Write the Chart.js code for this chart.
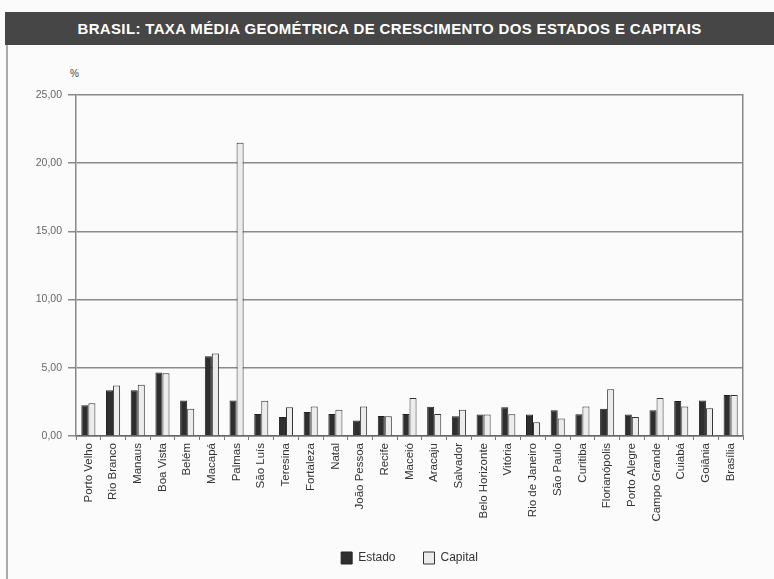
<!DOCTYPE html>
<html>
<head>
<meta charset="utf-8">
<script src="https://cdn.jsdelivr.net/npm/chart.js@4/dist/chart.umd.min.js"></script>
<style>
  html, body { margin: 0; padding: 0; width: 774px; height: 579px; overflow: hidden; background: #fbfbfb; }
  #titulo {
    position: absolute; left: 5px; top: 12px; width: 769px; height: 33px;
    background: #464646; color: #fff; font: bold 15px "Liberation Sans", Arial, sans-serif;
    line-height: 33px; text-align: center; letter-spacing: 0.35px;
  }
  #moldura { position: absolute; left: 6px; top: 45px; width: 2px; height: 534px; background: #aaa; }
  #pct { position: absolute; left: 70px; top: 68px; font: 10px "Liberation Sans", Arial, sans-serif; color: #444; }
  #box { position: absolute; left: 0; top: 50px; width: 774px; height: 524px; }
</style>
</head>
<body>
<div id="titulo">BRASIL: TAXA MÉDIA GEOMÉTRICA DE CRESCIMENTO DOS ESTADOS E CAPITAIS</div>
<div id="moldura"></div>
<div id="pct">%</div>
<div id="box"><canvas id="grafico"></canvas></div>
<script>
// categorias e valores (%)
var capitais = ['Porto Velho', 'Rio Branco', 'Manaus', 'Boa Vista', 'Belém', 'Macapá', 'Palmas', 'São Luís',
    'Teresina', 'Fortaleza', 'Natal', 'João Pessoa', 'Recife', 'Maceió', 'Aracaju', 'Salvador',
    'Belo Horizonte', 'Vitória', 'Rio de Janeiro', 'São Paulo', 'Curitiba', 'Florianópolis',
    'Porto Alegre', 'Campo Grande', 'Cuiabá', 'Goiânia', 'Brasília'];
var taxaEstado = [2.25, 3.35, 3.35, 4.65, 2.6, 5.85, 2.6, 1.62, 1.4, 1.76, 1.62, 1.13, 1.47, 1.62, 2.15, 1.45,
    1.57, 2.1, 1.57, 1.88, 1.6, 2.0, 1.57, 1.88, 2.56, 2.6, 3.0];
var taxaCapital = [2.4, 3.7, 3.75, 4.6, 2.0, 6.05, 21.5, 2.58, 2.1, 2.17, 1.93, 2.17, 1.45, 2.78, 1.62, 1.93,
    1.57, 1.6, 1.0, 1.28, 2.17, 3.43, 1.4, 2.78, 2.17, 2.03, 3.0];
var yMax = 25;
var yPasso = 5;

function criarGrafico() {
    var ctx = document.getElementById('grafico').getContext('2d');
    return new Chart(ctx, {
        type: 'bar',
        data: {
            labels: capitais,
            datasets: [{
                label: 'Estado',
                backgroundColor: '#2e2e2e',
                borderColor: '#222',
                borderWidth: 1,
                data: taxaEstado
            }, {
                label: 'Capital',
                backgroundColor: '#ececec',
                borderColor: '#333',
                borderWidth: 1,
                data: taxaCapital
            }]
        },
        options: {
            responsive: true,
            maintainAspectRatio: false,
            animation: false,
            layout: { padding: { left: 0, right: 31, top: 45, bottom: 0 } },
            datasets: { bar: { categoryPercentage: 0.57, barPercentage: 1 } },
            plugins: {
                legend: {
                    position: 'bottom',
                    fullSize: false,
                    labels: {
                        boxWidth: 11, boxHeight: 12, padding: 28, color: '#333',
                        font: { family: 'Liberation Sans', size: 12 }
                    }
                },
                tooltip: { enabled: false }
            },
            scales: {
                x: {
                    grid: { offset: true, drawOnChartArea: false, tickLength: 4, color: '#777' },
                    border: { color: '#666', width: 1.5 },
                    ticks: {
                        maxRotation: 90, minRotation: 90, padding: 3, autoSkip: false, color: '#333',
                        font: { family: 'Liberation Sans', size: 11.5 }
                    },
                    afterFit: function (s) { s.height = 88; }
                },
                y: {
                    min: 0, max: yMax,
                    grid: { color: '#8a8a8a', lineWidth: 1.5, tickLength: 8 },
                    border: { color: '#888', width: 1.5 },
                    ticks: {
                        stepSize: yPasso, padding: 6, color: '#666',
                        font: { family: 'Liberation Sans', size: 10.5 },
                        callback: function (v) { return v.toFixed(2).replace('.', ','); }
                    },
                    afterFit: function (s) { s.width = 76; }
                },
                y2: {
                    position: 'right', min: 0, max: yMax,
                    grid: { display: false },
                    ticks: { display: false },
                    border: { color: '#888', width: 1.5 },
                    afterFit: function (s) { s.width = 0; }
                }
            }
        }
    });
}

criarGrafico();
</script>
</body>
</html>
